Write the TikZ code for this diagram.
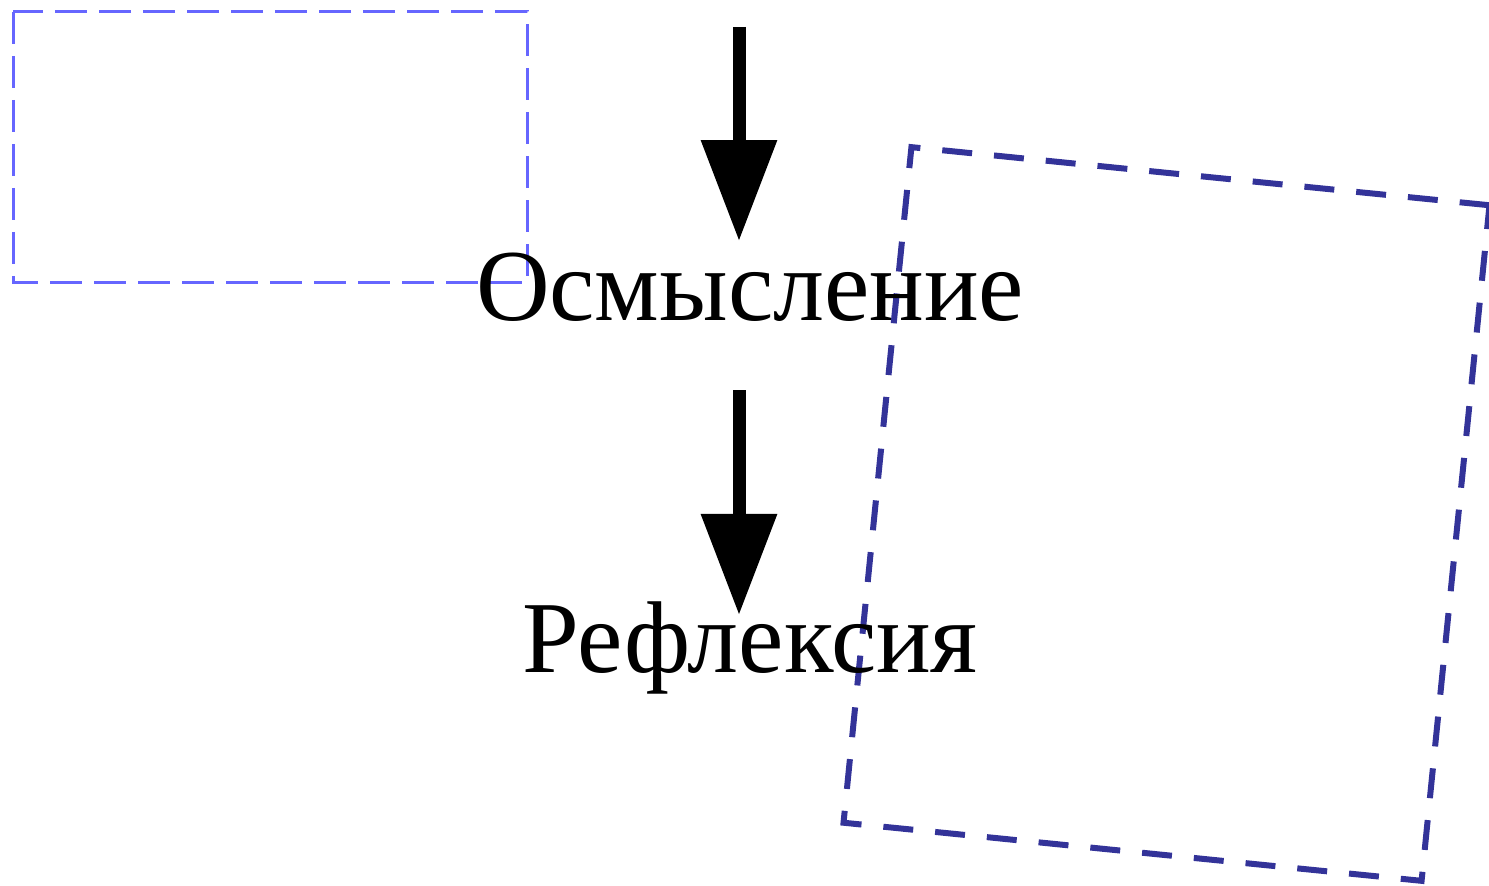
\documentclass[tikz,border=0pt]{standalone}
\usepackage{fontspec}
\setmainfont{Liberation Serif}
\usepackage{tikz}
\usetikzlibrary{arrows.meta,positioning,calc}

\definecolor{framelight}{RGB}{102,102,255}
\definecolor{framedark}{RGB}{51,51,153}

\begin{document}
\begin{tikzpicture}[x=0.5pt, y=-0.5pt,
label/.style={inner sep=6pt, anchor=base, font=\fontsize{51pt}{58pt}\selectfont},
arrow/.style={-{Triangle[length=50.5pt, width=36.5pt]}, line width=6.5pt},
lightframe/.style={draw=framelight, dashed, dash pattern=on 16pt off 6pt, line width=1.5pt},
darkframe/.style={draw=framedark, dash pattern=on 15pt off 11pt, line width=3pt}
]
\useasboundingbox (0,0) rectangle (1489,886);
% frames
\draw[lightframe] (13,12) rectangle (527,283);
\node[darkframe, rotate=-5.74, minimum width=290.5pt, minimum height=339.5pt] (box) at (1166.5,514) {};
% texts
\node[label] (osm) at (750,321) {Осмысление};
\node[label] (refl) at (750,673) {Рефлексия};
\coordinate (top) at (739,27);
% arrows
\draw[arrow] (top) -- (top |- osm.north);
\draw[arrow, shorten <=28pt, shorten >=29pt] (top |- osm.south) -- (top |- refl.base);
\end{tikzpicture}
\end{document}
